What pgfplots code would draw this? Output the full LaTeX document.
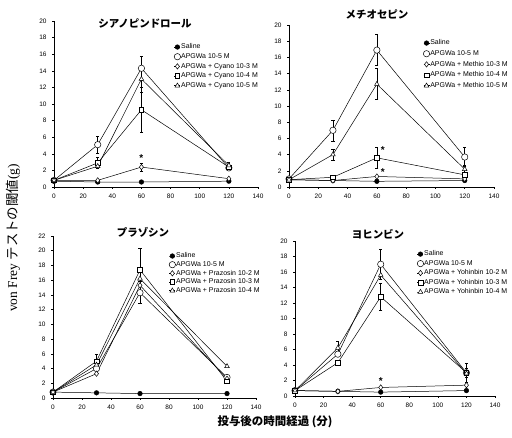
\documentclass[border=0pt]{standalone}
\usepackage{fontspec}
\setmainfont{Liberation Sans}
\newfontfamily\jp{Noto Sans CJK JP}
\newfontfamily\serifjp{Liberation Serif}
\usepackage{pgfplots}
\pgfplotsset{compat=1.18}
\tikzset{starnode/.style={font=\fontsize{10}{10}\selectfont\bfseries}}
\pgfplotsset{
  panel/.style={
    scale only axis, clip=false,
    xmin=0, xmax=140, ymin=0,
    axis x line*=bottom, axis y line*=left,
    axis line style={line width=0.5pt, -},
    xtick={0,20,...,140},
    tick align=outside, major tick length=2bp,
    tick style={line width=0.5pt, black},
    ticklabel style={font=\fontsize{6.5}{7.5}\selectfont},
    /pgf/number format/assume math mode=true,
    xticklabel style={yshift=-1.5bp},
    yticklabel style={xshift=-2bp},
    legend cell align=left,
    legend style={draw=none, fill=none, inner sep=0pt, font=\fontsize{7}{8}\selectfont, anchor=north west, nodes={inner sep=0.5pt, text height=5.3pt, text depth=1.6pt}},
    legend image code/.code={\draw[mark repeat=2,mark phase=2,##1] plot coordinates {(0bp,0bp) (3bp,0bp) (6bp,0bp)};},
    every axis plot/.append style={black, line width=0.5pt},
    error bars/error bar style={line width=0.5pt, black},
    error bars/error mark options={rotate=90, mark size=1.6bp, line width=0.5pt, black},
  },
  sal/.style={mark=*, mark size=2.3bp, mark options={fill=black}},
  apg/.style={mark=*, mark size=3.2bp, mark options={fill=white}},
  dia/.style={mark=diamond*, mark size=2.7bp, mark options={fill=white}},
  sq/.style={mark=square*, mark size=2.3bp, mark options={fill=white}},
  tri/.style={mark=triangle*, mark size=2.7bp, mark options={fill=white}},
  eb/.style={error bars/.cd, y dir=both, y explicit},
}
\begin{document}
\begin{tikzpicture}[x=1bp,y=1bp]
\useasboundingbox (0,0) rectangle (512,438);
% Panel 1: Cyano
\begin{axis}[panel, at={(54bp,251bp)}, anchor=south west, width=204bp, height=166bp,
  ymax=20, ytick={0,2,...,20}, legend style={at={(0.588,0.868)}, row sep=1.8bp}]
\addplot[sal] coordinates {(0,0.7) (30,0.6) (60,0.6) (120,0.7)};
\addlegendentry{Saline}
\addplot[apg, eb] coordinates {(0,0.8) +- (0,0) (30,5.1) +- (0,1.0) (60,14.3) +- (0,1.4) (120,2.3) +- (0,0.3)};
\addlegendentry{APGWa 10-5 M}
\addplot[dia, eb] coordinates {(0,0.8) +- (0,0) (30,0.8) +- (0,0) (60,2.4) +- (0,0.5) (120,1.0) +- (0,0)};
\addlegendentry{APGWa + Cyano 10-3 M}
\addplot[sq, eb] coordinates {(0,0.8) +- (0,0) (30,2.9) +- (0,0.7) (60,9.3) +- (0,2.7) (120,2.4) +- (0,0.4)};
\addlegendentry{APGWa + Cyano 10-4 M}
\addplot[tri, eb] coordinates {(0,0.8) +- (0,0) (30,2.5) +- (0,0) (60,13.0) +- (0,1.6) (120,2.6) +- (0,0.4)};
\addlegendentry{APGWa + Cyano 10-5 M}
\node[starnode] at (axis cs:60,3.5) {*};
\end{axis}
% Panel 2: Methio
\begin{axis}[panel, at={(289bp,251bp)}, anchor=south west, width=205bp, height=162bp,
  ymax=20, ytick={0,2,...,20}, legend style={at={(0.654,0.914)}, row sep=2.8bp}]
\addplot[sal] coordinates {(0,0.9) (30,0.8) (60,0.7) (120,0.8)};
\addlegendentry{Saline}
\addplot[apg, eb] coordinates {(0,1.0) +- (0,0) (30,7.0) +- (0,1.3) (60,16.9) +- (0,1.9) (120,3.7) +- (0,1.2)};
\addlegendentry{APGWa 10-5 M}
\addplot[dia] coordinates {(0,0.9) (30,0.8) (60,1.3) (120,1.0)};
\addlegendentry{APGWa + Methio 10-3 M}
\addplot[sq, eb] coordinates {(0,0.9) +- (0,0) (30,1.2) +- (0,0) (60,3.6) +- (0,1.3) (120,1.5) +- (0,0)};
\addlegendentry{APGWa + Methio 10-4 M}
\addplot[tri, eb] coordinates {(0,0.9) +- (0,0) (30,4.0) +- (0,0.7) (60,12.7) +- (0,1.9) (120,2.2) +- (0,0.5)};
\addlegendentry{APGWa + Methio 10-5 M}
\node[starnode] at (axis cs:64,4.6) {*};
\node[starnode] at (axis cs:64,1.8) {*};
\end{axis}
% Panel 3: Prazosin
\begin{axis}[panel, at={(53bp,40bp)}, anchor=south west, width=203bp, height=162bp,
  ymax=22, ytick={0,2,...,22}, legend style={at={(0.571,0.902)}, row sep=0.8bp}]
\addplot[sal] coordinates {(0,0.8) (30,0.7) (60,0.6) (120,0.6)};
\addlegendentry{Saline}
\addplot[apg, eb] coordinates {(0,0.8) +- (0,0) (30,4.0) +- (0,0) (60,14.3) +- (0,1.5) (120,2.8) +- (0,0)};
\addlegendentry{APGWa 10-5 M}
\addplot[dia] coordinates {(0,0.8) (30,3.3) (60,15.3) (120,2.6)};
\addlegendentry{APGWa + Prazosin 10-2 M}
\addplot[sq, eb] coordinates {(0,0.8) +- (0,0) (30,5.0) +- (0,1.0) (60,17.4) +- (0,3.0) (120,2.3) +- (0,0)};
\addlegendentry{APGWa + Prazosin 10-3 M}
\addplot[tri] coordinates {(0,0.8) (30,4.5) (60,16.2) (120,4.3)};
\addlegendentry{APGWa + Prazosin 10-4 M}
\end{axis}
% Panel 4: Yohinbin
\begin{axis}[panel, at={(295bp,42bp)}, anchor=south west, width=200bp, height=155bp,
  ymax=20, ytick={0,2,...,20}, legend style={at={(0.61,0.942)}, row sep=1.6bp}]
\addplot[sal] coordinates {(0,0.7) (30,0.6) (60,0.5) (120,0.7)};
\addlegendentry{Saline}
\addplot[apg, eb] coordinates {(0,0.7) +- (0,0) (30,5.4) +- (0,0) (60,17.0) +- (0,1.9) (120,3.0) +- (0,1.2)};
\addlegendentry{APGWa 10-5 M}
\addplot[dia] coordinates {(0,0.7) (30,0.6) (60,1.1) (120,1.4)};
\addlegendentry{APGWa + Yohinbin 10-2 M}
\addplot[sq, eb] coordinates {(0,0.7) +- (0,0) (30,4.3) +- (0,0) (60,12.8) +- (0,1.8) (120,3.0) +- (0,0.6)};
\addlegendentry{APGWa + Yohinbin 10-3 M}
\addplot[tri, eb] coordinates {(0,0.7) +- (0,0) (30,6.2) +- (0,0.9) (60,15.6) +- (0,0) (120,2.9) +- (0,0)};
\addlegendentry{APGWa + Yohinbin 10-4 M}
\node[starnode] at (axis cs:60,1.9) {*};
\end{axis}
% titles
\node[font=\fontsize{10.5}{12}\selectfont\jp\bfseries] at (145,415) {シアノピンドロール};
\node[font=\fontsize{10.5}{12}\selectfont\jp\bfseries] at (377,424) {メチオセピン};
\node[font=\fontsize{10.5}{12}\selectfont\jp\bfseries] at (143,206) {プラゾシン};
\node[font=\fontsize{10.5}{12}\selectfont\jp\bfseries] at (378,204) {ヨヒンビン};
% axis labels
\node[rotate=90, font=\fontsize{13.5}{15}\selectfont] at (13,200) {\serifjp von Frey \jp テストの閾値\serifjp (g)};
\node[font=\fontsize{11.5}{13}\selectfont\jp\bfseries] at (275,16) {投与後の時間経過 (分)};
\end{tikzpicture}
\end{document}
